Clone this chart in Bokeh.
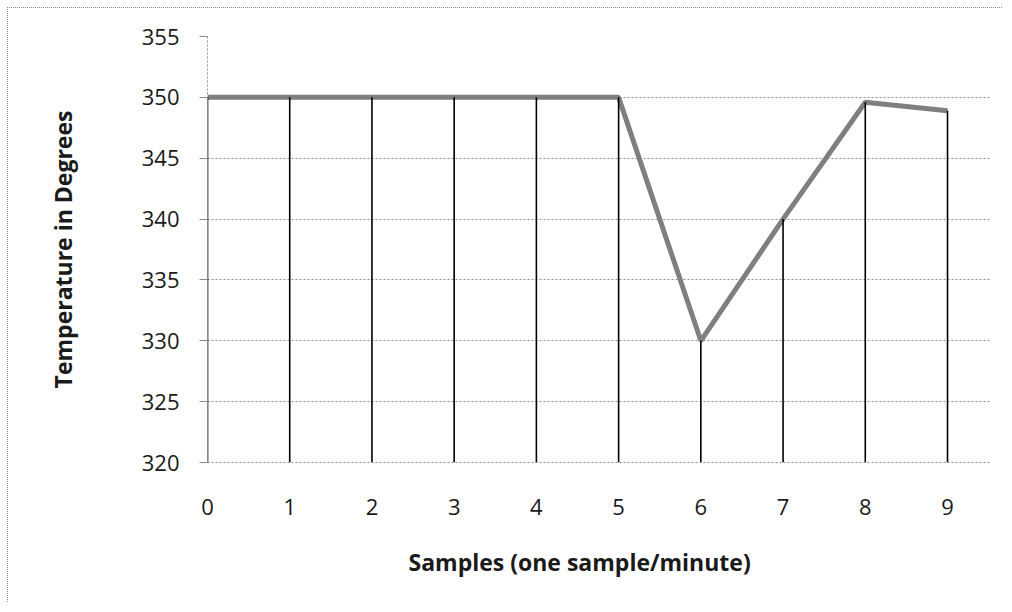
from bokeh.plotting import figure
from bokeh.models import Range1d, FixedTicker, Title
from bokeh.embed import file_html
from bokeh.resources import INLINE

samples = [0, 1, 2, 3, 4, 5, 6, 7, 8, 9]
temperature = [350, 350, 350, 350, 350, 350, 330, 340, 349.6, 348.9]
y_ticks = [320, 325, 330, 335, 340, 345, 350, 355]
y_min, y_max = 320, 355
x_min, x_max = 0, 9.535
x_title = "Samples (one sample/minute)"
y_title = "Temperature in Degrees"

p = figure(width=995, height=595, output_backend="svg", toolbar_location=None,
           x_range=Range1d(x_min, x_max), y_range=Range1d(y_min, y_max),
           min_border_left=199, min_border_top=28, min_border_right=12, min_border_bottom=140)
p.styles = {"border-top": "1px dotted #8a8a8a", "border-left": "1px dotted #8a8a8a",
            "margin-left": "7px", "margin-top": "7px"}
p.outline_line_color = None
p.background_fill_color = "white"
p.border_fill_color = "white"

FONT = "Open Sans"

p.xaxis.ticker = FixedTicker(ticks=samples)
p.yaxis.ticker = FixedTicker(ticks=y_ticks)
p.xgrid.grid_line_color = None
p.ygrid.grid_line_color = "#8c8c8c"
p.ygrid.grid_line_dash = "2 2"
p.ygrid.grid_line_width = 1

for ax in (p.xaxis, p.yaxis):
    ax.axis_line_color = "#8c8c8c"
    ax.axis_line_dash = "2 2"
    ax.minor_tick_line_color = None
    ax.major_label_text_font = FONT
    ax.major_label_text_font_size = "22px"
    ax.major_label_text_color = "#1a1a1a"
    ax.axis_label_text_font = FONT
    ax.axis_label_text_font_size = "23px"
    ax.axis_label_text_font_style = "bold"
    ax.axis_label_text_color = "#1a1a1a"

p.xaxis.major_tick_line_color = None
p.xaxis.major_tick_out = 0
p.xaxis.major_tick_in = 0
p.xaxis.major_label_standoff = 36

p.yaxis.major_tick_line_color = "#8c8c8c"
p.yaxis.major_tick_out = 8
p.yaxis.major_tick_in = 0
p.yaxis.major_label_standoff = 20
p.yaxis.axis_label = y_title
p.yaxis.axis_label_standoff = 60

# x-axis title, placed slightly left of the plot centre as in the original
p.add_layout(Title(text=x_title, align="left", offset=201, standoff=52,
                   text_font=FONT, text_font_size="23px", text_font_style="bold",
                   text_color="#1a1a1a"), "below")

# data line
p.line(samples, temperature, line_color="#7f7f7f", line_width=5)
# drop lines down to the axis
p.segment(x0=samples, y0=[y_min] * len(samples), x1=samples, y1=temperature,
          line_color="black", line_width=1.6)

open("out.html", "w").write(file_html(p, INLINE))
